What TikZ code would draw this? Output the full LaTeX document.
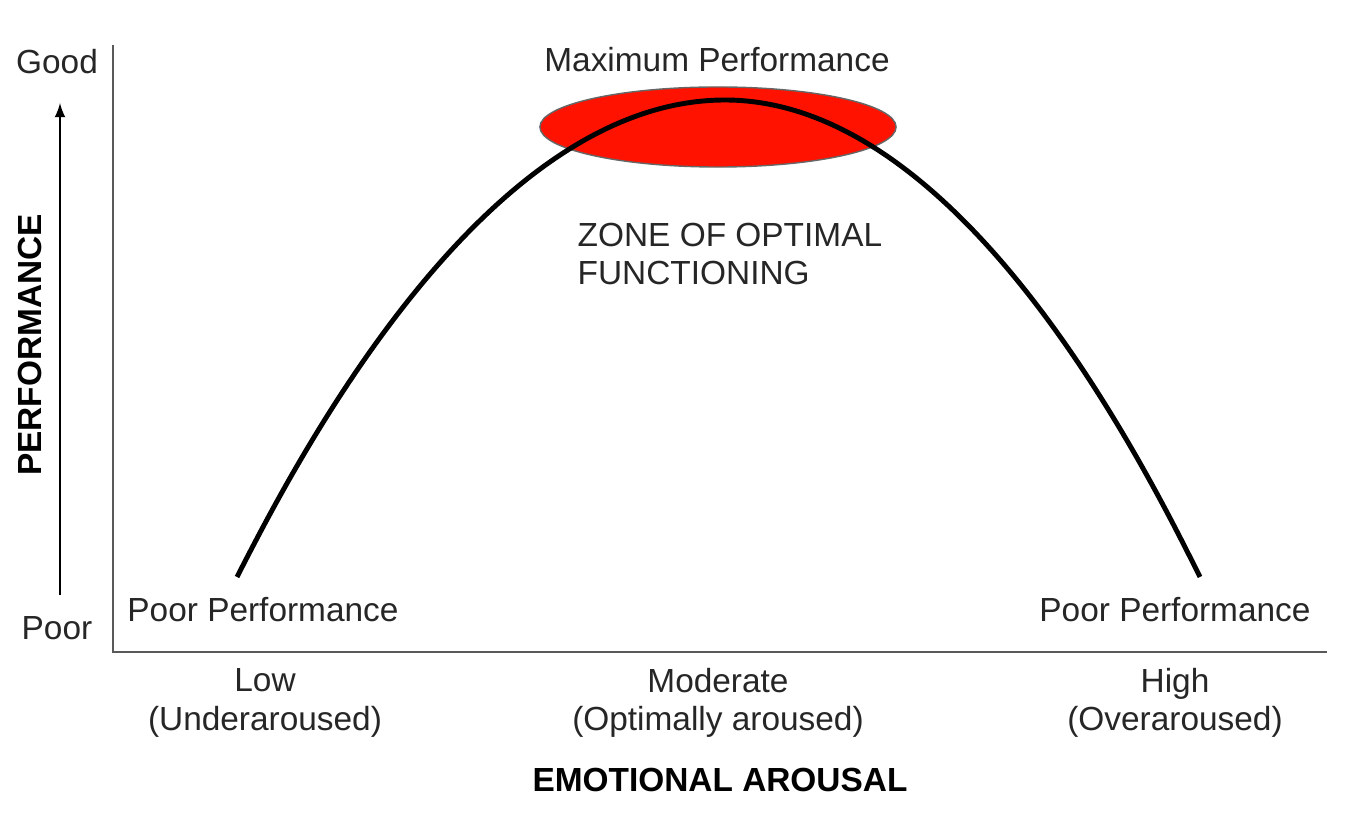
\documentclass[tikz,border=0pt]{standalone}
\usepackage{fontspec}
\setmainfont{Liberation Sans}
\usetikzlibrary{arrows,shapes.geometric}
\begin{document}
\begin{tikzpicture}[x=0.01cm,y=-0.01cm,font=\fontsize{9.5}{11}\selectfont]
    \tikzstyle{lbl} = [inner sep=0pt, text=black!85]
    \tikzstyle{axlbl} = [inner sep=0pt, font=\fontsize{9.5}{11}\selectfont\bfseries]
    \useasboundingbox (0,0) rectangle (1347,819);
    % axes
    \coordinate (top) at (113,45);
    \coordinate (origin) at (113,652);
    \coordinate (right) at (1327,652);
    \draw[gray!70!black, thin] (top) -- (origin) -- (right);
    \coordinate (arrlow) at (60,595);
    \coordinate (arrhigh) at (60,103);
    \draw[-latex, thin] (arrlow) -- (arrhigh);
    \node[lbl] (good) at (57,62) {Good};
    \node[lbl] (poor) at (57,628) {Poor};
    \node[axlbl, rotate=90] (perf) at (30,345) {PERFORMANCE};
    % zone
    \node[ellipse, draw=black!60, fill=red!85!orange, minimum width=3.56cm, minimum height=0.8cm, inner sep=0pt] (zone) at (718,127) {};
    % curve
    \coordinate (cstart) at (237,577);
    \coordinate (cpeak) at (725,100);
    \coordinate (cend) at (1200,577);
    \draw[line width=1.4pt] (cstart) parabola bend (cpeak) (cend);
    \node[lbl] (maxperf) at (717,60) {Maximum Performance};
    \node[lbl, align=left, anchor=north west] (zof) at (577,222) {ZONE OF OPTIMAL\\FUNCTIONING};
    \node[lbl] (poorl) at (263,610) {Poor Performance};
    \node[lbl] (poorr) at (1175,610) {Poor Performance};
    % arousal levels
    \node[lbl, align=center] (low) at (265,703) {Low\\(Underaroused)};
    \node[lbl, align=center] (mod) at (718,703) {Moderate\\(Optimally aroused)};
    \node[lbl, align=center] (high) at (1175,703) {High\\(Overaroused)};
    \node[axlbl] (arousal) at (720,780) {EMOTIONAL AROUSAL};
\end{tikzpicture}
\end{document}
